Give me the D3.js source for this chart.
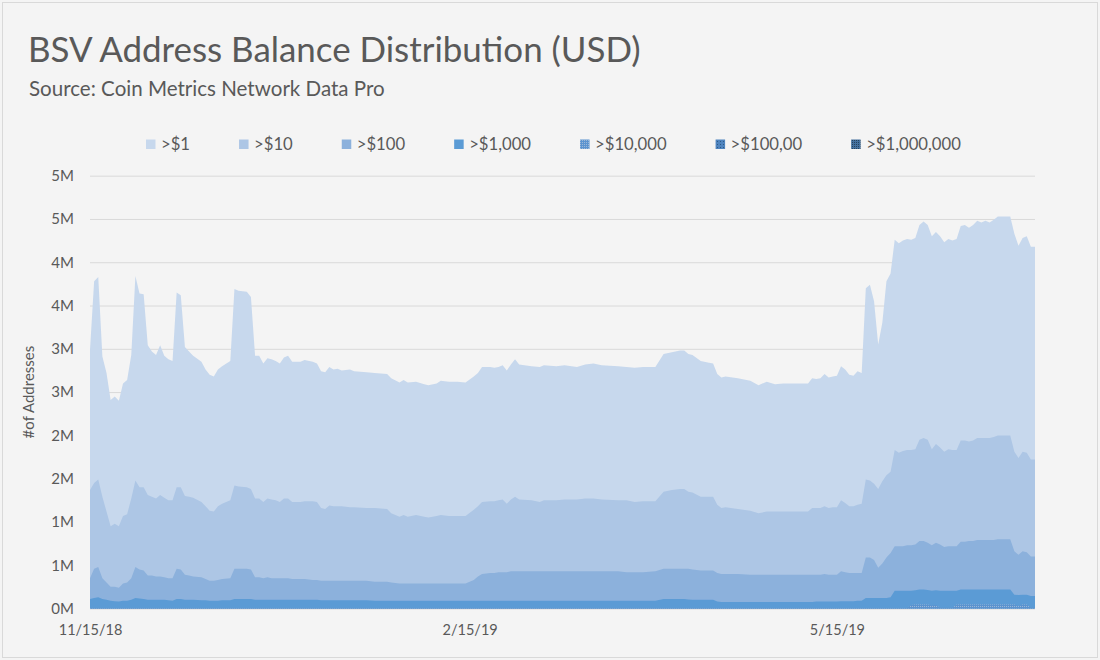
<!DOCTYPE html>
<html>
<head>
<meta charset="utf-8">
<script src="https://cdnjs.cloudflare.com/ajax/libs/d3/7.8.5/d3.min.js"></script>
<style>
  body { margin: 0; background: #f4f4f4; }
  svg { display: block; font-family: Lato, "Open Sans", sans-serif; }
</style>
</head>
<body>
<div id="chart"></div>
<script>
// daily-ish dates
var dates = [
  "11/15/18","11/16/18","11/17/18","11/18/18","11/19/18","11/20/18","11/21/18","11/22/18","11/23/18","11/24/18","11/25/18","11/26/18","11/27/18","11/28/18","11/29/18","11/30/18",
  "12/1/18","12/2/18","12/3/18","12/4/18","12/5/18","12/6/18","12/7/18","12/8/18","12/9/18","12/10/18","12/12/18","12/13/18","12/14/18","12/15/18","12/16/18","12/17/18","12/19/18","12/20/18","12/21/18","12/23/18","12/24/18","12/25/18","12/26/18","12/27/18","12/28/18","12/29/18","12/30/18","12/31/18",
  "1/1/19","1/2/19","1/3/19","1/5/19","1/6/19","1/8/19","1/9/19","1/10/19","1/11/19","1/12/19","1/13/19","1/14/19","1/15/19","1/17/19","1/18/19","1/21/19","1/23/19","1/26/19","1/27/19","1/29/19","1/30/19","1/31/19",
  "2/2/19","2/4/19","2/5/19","2/7/19","2/8/19","2/10/19","2/12/19","2/14/19","2/16/19","2/17/19","2/18/19","2/20/19","2/21/19","2/22/19","2/23/19","2/24/19","2/25/19","2/26/19","2/27/19",
  "3/2/19","3/4/19","3/5/19","3/8/19","3/10/19","3/13/19","3/15/19","3/17/19","3/19/19","3/23/19","3/25/19","3/27/19","3/29/19",
  "4/1/19","4/3/19","4/5/19","4/7/19","4/8/19","4/9/19","4/10/19","4/12/19","4/14/19","4/15/19","4/16/19","4/17/19","4/18/19","4/21/19","4/24/19","4/26/19","4/28/19","4/30/19",
  "5/2/19","5/4/19","5/8/19","5/9/19","5/10/19","5/11/19","5/12/19","5/13/19","5/14/19","5/15/19","5/16/19","5/17/19","5/18/19","5/19/19","5/20/19","5/21/19","5/22/19","5/23/19","5/24/19","5/25/19","5/26/19","5/27/19","5/28/19","5/29/19","5/30/19","5/31/19",
  "6/1/19","6/2/19","6/3/19","6/4/19","6/5/19","6/6/19","6/7/19","6/8/19","6/9/19","6/10/19","6/11/19","6/12/19","6/13/19","6/14/19","6/15/19","6/16/19","6/17/19","6/18/19","6/19/19","6/20/19","6/21/19","6/22/19","6/23/19","6/24/19","6/25/19","6/26/19","6/27/19","6/28/19","6/29/19","6/30/19",
  "7/1/19","7/2/19"
];

// number of addresses, in millions
var over1 = [
  2.99,3.78,3.83,2.91,2.72,2.41,2.45,2.40,2.60,2.64,2.93,3.84,3.64,3.63,3.04,2.97,
  2.93,3.04,2.92,2.88,2.86,3.65,3.62,3.02,2.97,2.92,2.85,2.76,2.70,2.68,2.76,2.80,2.86,3.69,3.67,3.66,3.60,2.92,2.92,2.83,2.89,2.88,2.86,2.83,
  2.90,2.92,2.85,2.85,2.87,2.85,2.83,2.74,2.73,2.79,2.76,2.77,2.75,2.76,2.74,2.73,2.72,2.71,2.66,2.61,2.64,2.61,
  2.62,2.59,2.58,2.60,2.63,2.62,2.62,2.61,2.68,2.72,2.79,2.79,2.78,2.79,2.81,2.75,2.82,2.88,2.82,
  2.80,2.79,2.81,2.80,2.81,2.79,2.82,2.83,2.81,2.80,2.79,2.78,2.79,
  2.79,2.94,2.96,2.98,2.98,2.94,2.93,2.86,2.84,2.83,2.71,2.67,2.68,2.66,2.63,2.58,2.62,2.59,
  2.60,2.60,2.60,2.66,2.65,2.66,2.71,2.67,2.68,2.69,2.80,2.76,2.70,2.69,2.74,2.72,3.70,3.74,3.55,3.05,3.30,3.78,3.87,4.26,4.22,4.25,
  4.27,4.26,4.28,4.43,4.47,4.43,4.30,4.35,4.30,4.23,4.27,4.25,4.27,4.42,4.43,4.40,4.43,4.48,4.46,4.48,4.46,4.49,4.53,4.53,4.53,4.53,4.33,4.19,4.28,4.30,
  4.18,4.18
];
var over10 = [
  1.37,1.45,1.49,1.29,1.12,0.95,0.98,0.95,1.07,1.09,1.27,1.48,1.40,1.40,1.31,1.29,
  1.27,1.31,1.28,1.25,1.25,1.40,1.40,1.30,1.29,1.28,1.23,1.18,1.13,1.12,1.18,1.21,1.25,1.42,1.41,1.40,1.38,1.27,1.27,1.23,1.27,1.26,1.25,1.23,
  1.27,1.27,1.23,1.23,1.24,1.24,1.23,1.16,1.15,1.19,1.18,1.18,1.18,1.17,1.17,1.16,1.16,1.15,1.10,1.06,1.08,1.06,
  1.08,1.06,1.05,1.07,1.08,1.07,1.07,1.07,1.14,1.18,1.23,1.24,1.24,1.25,1.26,1.21,1.26,1.29,1.26,
  1.25,1.23,1.25,1.25,1.26,1.26,1.27,1.27,1.26,1.25,1.25,1.23,1.24,
  1.24,1.35,1.37,1.38,1.38,1.35,1.34,1.29,1.29,1.29,1.20,1.16,1.17,1.15,1.13,1.10,1.12,1.12,
  1.12,1.12,1.12,1.16,1.16,1.16,1.18,1.16,1.17,1.17,1.25,1.22,1.18,1.18,1.20,1.21,1.49,1.48,1.44,1.38,1.47,1.54,1.58,1.83,1.80,1.82,
  1.83,1.83,1.84,1.95,1.97,1.95,1.84,1.90,1.86,1.81,1.84,1.83,1.83,1.94,1.94,1.93,1.94,1.97,1.97,1.97,1.97,1.98,2.00,2.00,2.00,2.00,1.81,1.74,1.81,1.80,
  1.72,1.72
];
var over100 = [
  0.35,0.46,0.48,0.35,0.30,0.25,0.25,0.24,0.29,0.30,0.35,0.48,0.45,0.44,0.38,0.38,
  0.37,0.37,0.36,0.35,0.35,0.46,0.45,0.39,0.38,0.37,0.36,0.34,0.32,0.32,0.33,0.34,0.35,0.46,0.46,0.46,0.45,0.36,0.36,0.35,0.36,0.35,0.35,0.35,
  0.35,0.35,0.34,0.34,0.34,0.33,0.33,0.32,0.32,0.32,0.32,0.32,0.32,0.32,0.32,0.32,0.31,0.31,0.30,0.29,0.29,0.29,
  0.29,0.29,0.29,0.29,0.29,0.29,0.29,0.29,0.33,0.37,0.40,0.41,0.41,0.42,0.42,0.42,0.43,0.43,0.43,
  0.43,0.43,0.43,0.43,0.43,0.43,0.43,0.43,0.43,0.43,0.42,0.42,0.42,
  0.43,0.46,0.46,0.46,0.46,0.46,0.45,0.44,0.44,0.44,0.41,0.40,0.40,0.40,0.39,0.39,0.39,0.39,
  0.39,0.39,0.39,0.39,0.39,0.39,0.40,0.39,0.39,0.39,0.43,0.42,0.41,0.41,0.41,0.41,0.59,0.59,0.56,0.47,0.52,0.59,0.64,0.72,0.72,0.72,
  0.73,0.73,0.74,0.78,0.78,0.76,0.73,0.76,0.74,0.71,0.72,0.72,0.72,0.77,0.77,0.78,0.78,0.79,0.79,0.79,0.79,0.79,0.80,0.80,0.80,0.80,0.66,0.62,0.66,0.65,
  0.60,0.60
];
var over1k = [
  0.11,0.12,0.13,0.11,0.10,0.09,0.085,0.08,0.09,0.09,0.10,0.12,0.115,0.11,0.10,0.10,
  0.10,0.10,0.10,0.095,0.09,0.11,0.11,0.10,0.10,0.10,0.095,0.095,0.09,0.09,0.09,0.095,0.095,0.11,0.11,0.11,0.11,0.10,0.10,0.10,0.10,0.10,0.10,0.10,
  0.10,0.10,0.10,0.10,0.10,0.10,0.10,0.095,0.095,0.095,0.095,0.095,0.095,0.095,0.095,0.095,0.09,0.09,0.09,0.09,0.09,0.09,
  0.09,0.09,0.09,0.09,0.09,0.09,0.09,0.09,0.09,0.09,0.09,0.09,0.09,0.09,0.09,0.09,0.09,0.09,0.09,
  0.09,0.09,0.09,0.09,0.09,0.09,0.09,0.09,0.09,0.09,0.09,0.09,0.09,
  0.09,0.11,0.11,0.11,0.11,0.105,0.10,0.10,0.10,0.10,0.08,0.075,0.075,0.075,0.075,0.075,0.075,0.075,
  0.075,0.075,0.075,0.075,0.08,0.08,0.08,0.08,0.08,0.08,0.085,0.085,0.085,0.085,0.09,0.09,0.12,0.12,0.12,0.12,0.12,0.12,0.13,0.205,0.205,0.205,
  0.205,0.205,0.21,0.22,0.22,0.215,0.205,0.21,0.205,0.205,0.205,0.205,0.205,0.22,0.22,0.22,0.22,0.22,0.22,0.22,0.22,0.22,0.22,0.22,0.22,0.22,0.16,0.155,0.16,0.16,
  0.145,0.145
];

// the top three bands are almost flat at zero, read on fewer dates
var over10kDates = ["11/15/18","6/1/19","6/2/19","6/3/19","6/6/19","6/7/19","6/8/19","6/9/19","6/12/19","6/13/19","6/27/19","6/28/19","6/29/19","6/30/19","7/1/19","7/2/19"];
var over10k = [0.005,0.005,0.04,0.045,0.045,0.035,0.04,0.01,0.01,0.045,0.045,0.03,0.045,0.045,0.01,0.01];
var tinyDates = ["11/15/18","1/15/19","3/15/19","5/15/19","7/2/19"];
var over100k = [0.003,0.003,0.003,0.003,0.004];
var over1m = [0.001,0.001,0.001,0.001,0.001];

var seriesNames = [">$1", ">$10", ">$100", ">$1,000", ">$10,000", ">$100,00", ">$1,000,000"];
var xTickLabels = ["11/15/18", "2/15/19", "5/15/19"];

var parseDate = d3.timeParse("%m/%d/%y");
var W = 1100, H = 660;
var textColor = "#595959";

var svg = d3.select("#chart").append("svg")
    .attr("width", W)
    .attr("height", H);

// fill patterns for the three thin series
var defs = svg.append("defs");
function makePattern(id, base, dot, step, r) {
    var p = defs.append("pattern")
        .attr("id", id)
        .attr("patternUnits", "userSpaceOnUse")
        .attr("width", step)
        .attr("height", step);
    p.append("rect").attr("width", step).attr("height", step).attr("fill", base);
    p.append("rect").attr("x", 0).attr("y", 0).attr("width", r).attr("height", r).attr("fill", dot);
}
makePattern("p10k", "#5b93cf", "#9ab7d8", 2, 1);
makePattern("p100k", "#4f84bf", "#2e5a87", 3, 1);
makePattern("p1m", "#44719f", "#25435f", 2, 1);

var fills = ["#c7d8ed", "#adc6e5", "#8cb1dc", "#5b9bd5", "url(#p10k)", "url(#p100k)", "url(#p1m)"];

// chart frame
svg.append("rect")
    .attr("x", 2.5).attr("y", 2.5)
    .attr("width", 1095).attr("height", 655)
    .attr("fill", "#f4f4f4")
    .attr("stroke", "#d9d9d9");

var plotLeft = 90, plotRight = 1035, plotTop = 175.7, plotBottom = 608.5;

var x = d3.scaleTime()
    .domain([parseDate(dates[0]), parseDate(dates[dates.length - 1])])
    .range([plotLeft, plotRight]);

var y = d3.scaleLinear()
    .domain([0, 5])
    .range([plotBottom, plotTop]);

// y grid + labels
var yAxis = svg.append("g")
    .attr("transform", "translate(" + plotLeft + ",0)")
    .call(d3.axisLeft(y)
        .ticks(10)
        .tickSize(-(plotRight - plotLeft))
        .tickPadding(16)
        .tickFormat(function (d) { return Math.round(d) + "M"; }));
yAxis.select(".domain").remove();
yAxis.selectAll("line").attr("stroke", "#d9d9d9");
yAxis.selectAll("text")
    .attr("fill", textColor)
    .style("font-size", "15px")
    .style("font-family", "Lato, sans-serif");

// build series
var series = [
    { name: seriesNames[0], dates: dates, values: over1 },
    { name: seriesNames[1], dates: dates, values: over10 },
    { name: seriesNames[2], dates: dates, values: over100 },
    { name: seriesNames[3], dates: dates, values: over1k },
    { name: seriesNames[4], dates: over10kDates, values: over10k },
    { name: seriesNames[5], dates: tinyDates, values: over100k },
    { name: seriesNames[6], dates: tinyDates, values: over1m }
];
series.forEach(function (s, i) {
    s.points = s.dates.map(function (d, j) { return { date: parseDate(d), value: s.values[j] }; });
    s.fill = fills[i];
});

var area = d3.area()
    .x(function (d) { return x(d.date); })
    .y0(y(0))
    .y1(function (d) { return y(d.value); });

svg.append("g")
    .selectAll("path")
    .data(series)
    .enter()
    .append("path")
    .attr("d", function (d) { return area(d.points); })
    .attr("fill", function (d) { return d.fill; });

// x labels
var xAxis = svg.append("g")
    .attr("transform", "translate(0," + plotBottom + ")")
    .call(d3.axisBottom(x)
        .tickValues(xTickLabels.map(parseDate))
        .tickSize(0)
        .tickPadding(16)
        .tickFormat(d3.timeFormat("%-m/%-d/%y")));
xAxis.select(".domain").remove();
xAxis.selectAll("text")
    .attr("fill", textColor)
    .style("font-size", "14.5px")
    .style("font-family", "Lato, sans-serif");

// y axis title
svg.append("text")
    .attr("transform", "translate(34," + ((plotTop + plotBottom) / 2) + ") rotate(-90)")
    .attr("text-anchor", "middle")
    .attr("fill", textColor)
    .attr("font-size", 15)
    .text("#of Addresses");

// fit text to the width it has in the picture
function fitWidth(sel, w) {
    var len = sel.node().getComputedTextLength();
    var fs = parseFloat(sel.attr("font-size"));
    sel.attr("font-size", fs * w / len);
}

var title = svg.append("text")
    .attr("x", 28).attr("y", 62)
    .attr("fill", textColor)
    .attr("font-size", 33)
    .text("BSV Address Balance Distribution (USD)");
fitWidth(title, 613);

var subtitle = svg.append("text")
    .attr("x", 29).attr("y", 96)
    .attr("fill", textColor)
    .attr("font-size", 18.5)
    .text("Source: Coin Metrics Network Data Pro");
fitWidth(subtitle, 356);

// legend
var legend = svg.append("g");
var lx = 146;
series.forEach(function (s) {
    legend.append("rect")
        .attr("x", lx).attr("y", 139.5)
        .attr("width", 9.5).attr("height", 9.5)
        .attr("fill", s.fill);
    var t = legend.append("text")
        .attr("x", lx + 15).attr("y", 150)
        .attr("fill", textColor)
        .attr("font-size", 16.7)
        .text(s.name);
    lx += 15 + t.node().getComputedTextLength() + 49;
});
</script>
</body>
</html>
